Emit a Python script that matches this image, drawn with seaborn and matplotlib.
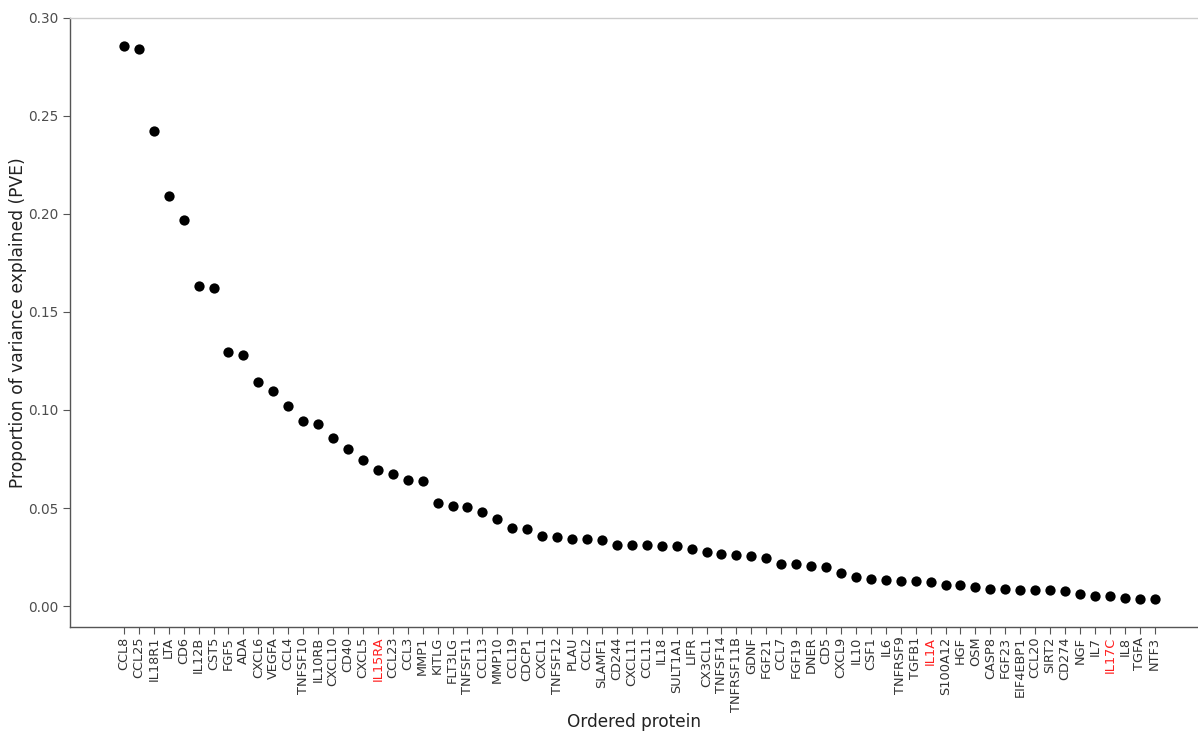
import matplotlib
matplotlib.use("Agg")
import matplotlib.pyplot as plt
import seaborn as sns
import pandas as pd

# Proteins ordered by proportion of variance explained
proteins = [
    "CCL8", "CCL25", "IL18R1", "LTA", "CD6", "IL12B", "CST5", "FGF5", "ADA", "CXCL6",
    "VEGFA", "CCL4", "TNFSF10", "IL10RB", "CXCL10", "CD40", "CXCL5", "IL15RA", "CCL23", "CCL3",
    "MMP1", "KITLG", "FLT3LG", "TNFSF11", "CCL13", "MMP10", "CCL19", "CDCP1", "CXCL1", "TNFSF12",
    "PLAU", "CCL2", "SLAMF1", "CD244", "CXCL11", "CCL11", "IL18", "SULT1A1", "LIFR", "CX3CL1",
    "TNFSF14", "TNFRSF11B", "GDNF", "FGF21", "CCL7", "FGF19", "DNER", "CD5", "CXCL9", "IL10",
    "CSF1", "IL6", "TNFRSF9", "TGFB1", "IL1A", "S100A12", "HGF", "OSM", "CASP8", "FGF23",
    "EIF4EBP1", "CCL20", "SIRT2", "CD274", "NGF", "IL7", "IL17C", "IL8", "TGFA", "NTF3",
]

pve = [
    0.2859, 0.2842, 0.2423, 0.2090, 0.1969, 0.1631, 0.1624, 0.1298, 0.1279, 0.1143,
    0.1097, 0.1022, 0.0942, 0.0930, 0.0859, 0.0803, 0.0747, 0.0694, 0.0673, 0.0642,
    0.0636, 0.0524, 0.0510, 0.0507, 0.0478, 0.0444, 0.0396, 0.0395, 0.0357, 0.0352,
    0.0344, 0.0340, 0.0335, 0.0313, 0.0313, 0.0313, 0.0308, 0.0306, 0.0293, 0.0276,
    0.0264, 0.0260, 0.0255, 0.0247, 0.0216, 0.0214, 0.0204, 0.0201, 0.0170, 0.0148,
    0.0139, 0.0133, 0.0129, 0.0126, 0.0124, 0.0107, 0.0105, 0.0099, 0.0087, 0.0085,
    0.0083, 0.0083, 0.0082, 0.0077, 0.0060, 0.0049, 0.0049, 0.0041, 0.0036, 0.0034,
]

# Proteins whose labels are highlighted
highlighted = ["IL15RA", "IL1A", "IL17C"]

y_ticks = [0.00, 0.05, 0.10, 0.15, 0.20, 0.25, 0.30]

df = pd.DataFrame({"protein": proteins, "pve": pve})

sns.set_theme(style="white")
plt.rcParams["font.family"] = ["DejaVu Sans"]

fig = plt.figure(figsize=(11.98, 7.31), dpi=100)
ax = fig.add_axes([0.0584, 0.1423, 0.9416, 0.8331])

sns.stripplot(data=df, x="protein", y="pve", order=proteins, jitter=False,
              color="black", size=7.4, linewidth=0, ax=ax)

ax.set_xlim(-3.61, 71.9)
ax.set_ylim(-0.0107, 0.30)
ax.set_yticks(y_ticks)
ax.set_yticklabels([f"{t:.2f}" for t in y_ticks])

ax.tick_params(axis="x", rotation=90, labelsize=9.3, colors="#555555",
               labelcolor="#333333", length=5, width=0.8, direction="out",
               bottom=True, pad=2)
ax.tick_params(axis="y", labelsize=9.8, colors="#555555",
               labelcolor="#4d4d4d", length=5, width=0.8, direction="out",
               left=True, pad=3)

for lbl in ax.get_xticklabels():
    if lbl.get_text() in highlighted:
        lbl.set_color("#ff2020")

for side in ("left", "bottom"):
    ax.spines[side].set_color("#555555")
    ax.spines[side].set_linewidth(1.0)
ax.spines["top"].set_color("#cccccc")
ax.spines["top"].set_linewidth(1.0)
ax.spines["right"].set_visible(False)

ax.set_xlabel("Ordered protein", fontsize=12.2, color="#222222", labelpad=1)
ax.set_ylabel("Proportion of variance explained (PVE)", fontsize=12.3,
              color="#222222", labelpad=1)

fig.savefig("out.png", dpi=100)
